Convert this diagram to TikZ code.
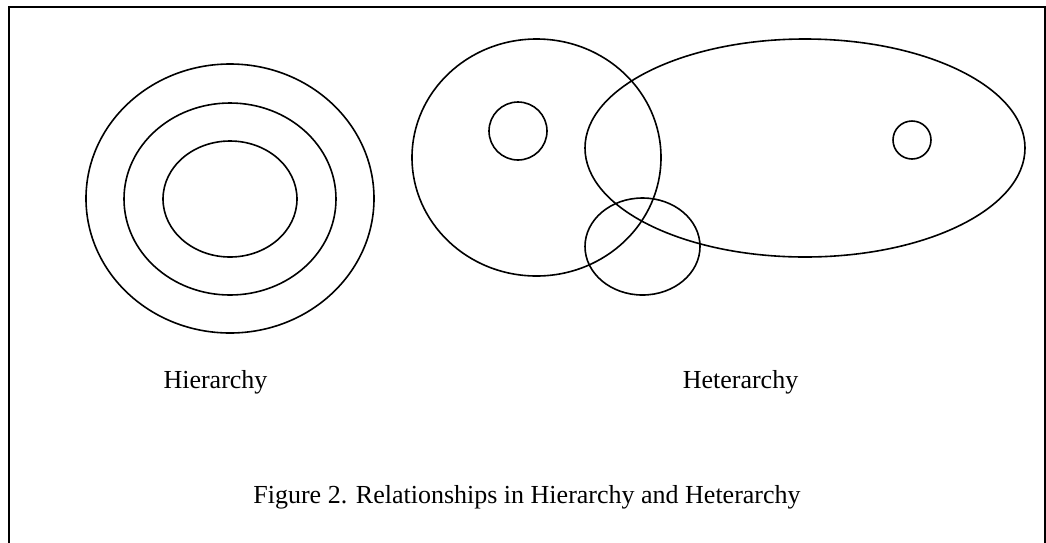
\documentclass[tikz,border=0pt]{standalone}
\usepackage{fontspec}
\setmainfont{Liberation Serif}
\begin{document}
\begin{tikzpicture}[x=1pt,y=-1pt,
  shp/.style={draw=black,line width=1.6pt},
  lbl/.style={font=\fontsize{26}{30}\selectfont,inner sep=0pt,anchor=base}]
\useasboundingbox (0,0) rectangle (1046,542);
\draw[line width=2.6pt] (9,560) -- (9,7) -- (1045,7) -- (1045,560);
% Hierarchy
\draw[shp] (230,198.5) ellipse [x radius=144, y radius=134.5];
\draw[shp] (230,199) ellipse [x radius=106, y radius=96];
\draw[shp] (230,199) ellipse [x radius=67, y radius=58];
% Heterarchy
\draw[shp] (536.5,157.5) ellipse [x radius=124.5, y radius=118.5];
\draw[shp] (518,131) circle [radius=29];
\draw[shp] (805,148) ellipse [x radius=220, y radius=109];
\draw[shp] (912,140) circle [radius=19];
\draw[shp] (642.5,246.5) ellipse [x radius=57.5, y radius=48.5];
\node[lbl] (h1) at (215.5,388) {Hierarchy};
\node[lbl] (h2) at (740.5,388) {Heterarchy};
\node[lbl] (cap) at (527,503) {Figure 2. Relationships in Hierarchy and Heterarchy};
\end{tikzpicture}
\end{document}
